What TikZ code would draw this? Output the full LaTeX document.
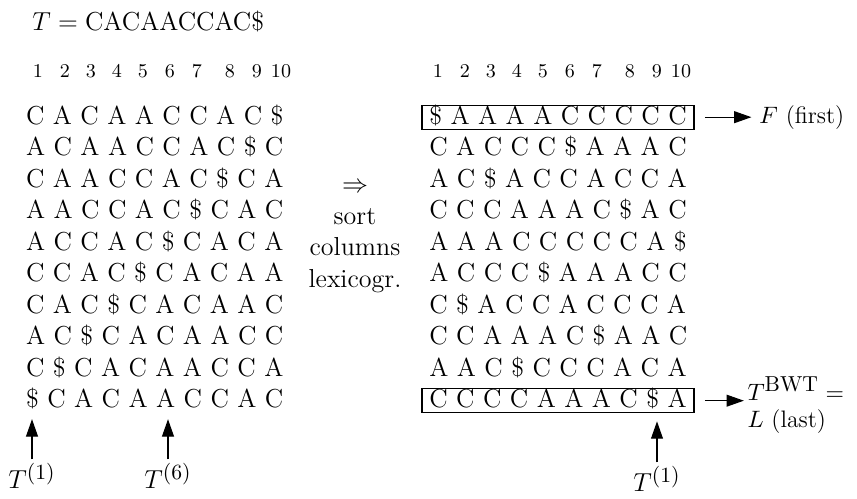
\documentclass[tikz,border=0pt]{standalone}
\usetikzlibrary{arrows.meta,positioning}
\newcommand{\smsup}[1]{\mbox{\fontsize{10}{11}\selectfont #1}}
\tikzset{
  seq/.style={anchor=base west, inner xsep=3.2pt, inner ysep=1pt, text height=.75em, text depth=.12em, font=\fontsize{12}{14.5}\selectfont},
  colnum/.style={anchor=base, inner sep=0pt, font=\fontsize{9}{11}\selectfont},
  tlabel/.style={inner sep=1.5pt, font=\fontsize{12}{14.5}\selectfont},
  lbl/.style={inner sep=1.5pt, align=left, font=\fontsize{11}{12.5}\selectfont},
  framed/.style={line width=.6pt},
  pointer/.style={-{Triangle[length=8pt,width=5.5pt]}, line width=.5pt},
}
\begin{document}
\begin{tikzpicture}[x=0.4615pt,y=-0.4615pt]
\useasboundingbox (0,0) rectangle (857,498);
\node[anchor=base west, inner sep=0pt, font=\fontsize{12}{14.5}\selectfont] (title) at (32,30) {$T=\mathrm{CACAACCAC\$}$};
\foreach \n/\x in {1/38,2/65,3/91,4/117,5/143,6/170,7/197,8/230,9/257,10/281}{
  \node[colnum] (nl\n) at (\x,77) {\n};
  \node[colnum] (nr\n) at (\x+400,77) {\n};
}
\foreach \row [count=\r] in {C A C A A C C A C \$, A C A A C C A C \$ C, C A A C C A C \$ C A, A A C C A C \$ C A C, A C C A C \$ C A C A, C C A C \$ C A C A A, C A C \$ C A C A A C, A C \$ C A C A A C C, C \$ C A C A A C C A, \$ C A C A A C C A C}
  \node[seq] (l\r) at (18.7,{124+31.5*(\r-1)}) {\row};
\foreach \row [count=\r] in {\$ A A A A C C C C C, C A C C C \$ A A A C, A C \$ A C C A C C A, C C C A A A C \$ A C, A A A C C C C C A \$, A C C C \$ A A A C C, C \$ A C C A C C C A, C C A A A C \$ A A C, A A C \$ C C C A C A, C C C C A A A C \$ A}
  \node[seq] (r\r) at (422,{124+31.5*(\r-1)}) {\row};
\draw[framed] (r1.south west) rectangle (r1.north east);
\draw[framed] (r10.south west) rectangle (r10.north east);
\node[align=center, font=\fontsize{12}{14.5}\selectfont] (sortnote) at (355,238) {$\Rightarrow$\\sort\\columns\\lexicogr.};
\node[lbl, right=28.5pt of r1] (first) {$F$ (first)};
\draw[pointer, shorten <=5pt, shorten >=2pt] (r1) -- (first);
\node[lbl, right=23pt of r10, yshift=-2pt] (bwt) {$T^{\smsup{BWT}}=$\\$L$ (last)};
\draw[pointer, shorten <=5pt] (r10.east) -- (r10.east -| bwt.west);
\node[tlabel] (tl1) at (32,476) {$T^{\smsup{(1)}}$};
\node[tlabel] (tl6) at (168,476) {$T^{\smsup{(6)}}$};
\node[tlabel] (tr1) at (657,479) {$T^{\smsup{(1)}}$};
\draw[pointer, shorten >=3pt] (tl1) -- (tl1 |- l10.south);
\draw[pointer, shorten >=3pt] (tl6) -- (tl6 |- l10.south);
\draw[pointer, shorten >=4pt] (tr1) -- (tr1 |- r10.south);
\end{tikzpicture}
\end{document}
